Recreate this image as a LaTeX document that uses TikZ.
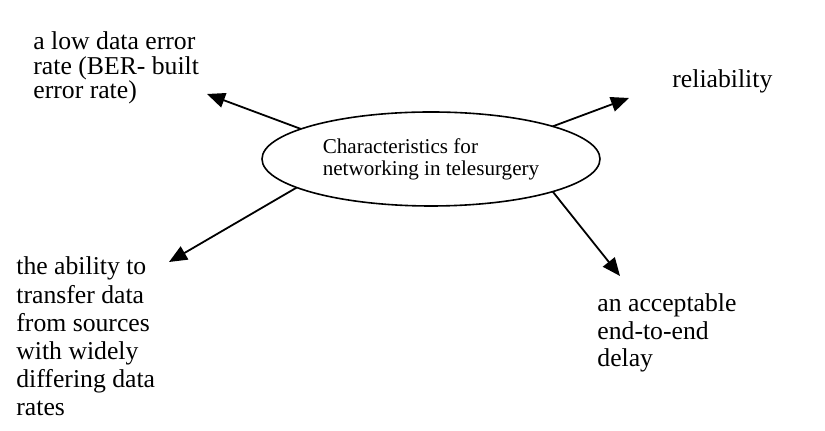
\documentclass[tikz,border=0pt]{standalone}
\usepackage{fontspec}
\setmainfont{Liberation Serif}
\usetikzlibrary{arrows.meta,shapes.geometric}

\begin{document}
\begin{tikzpicture}[x=0.5pt,y=-0.5pt,
  arr/.style={line width=0.9pt,-{Triangle[length=9pt,width=7.5pt]}},
  item/.style={anchor=base west,inner sep=0pt,align=left}]
  \useasboundingbox (0,0) rectangle (825,431);
  % centre ellipse
  \node[ellipse,draw,line width=0.8pt,minimum width=169pt,minimum height=47pt,inner sep=0pt,outer sep=0pt,
    align=left,font=\fontsize{10.55}{11}\selectfont] (core) at (431,159) {Characteristics for\\networking in telesurgery};
  \coordinate (tipLow) at (207,94);
  \coordinate (tipAbility) at (169,262);
  \coordinate (tipRel) at (629,98);
  \coordinate (tipDelay) at (620,276);
  \draw[arr] (core.167.7) -- (tipLow);
  \draw[arr] (core.192.3) -- (tipAbility);
  \draw[arr] (core.15.1) -- (tipRel);
  \draw[arr] (core.-15.5) -- (tipDelay);
  % labels (placed at the baseline of their last line)
  \node[item,font=\fontsize{12.85}{12.25}\selectfont] (lowerr) at (33,99) {a low data error\\rate (BER- built\\error rate)};
  \node[item,font=\fontsize{12.85}{14.1}\selectfont] (ability) at (16,416) {the ability to\\transfer data\\from sources\\with widely\\differing data\\rates};
  \node[item,font=\fontsize{12.85}{13.75}\selectfont] (rel) at (672,88) {reliability};
  \node[item,font=\fontsize{12.85}{13.75}\selectfont] (delay) at (597,367) {an acceptable\\end-to-end\\delay};
\end{tikzpicture}
\end{document}
